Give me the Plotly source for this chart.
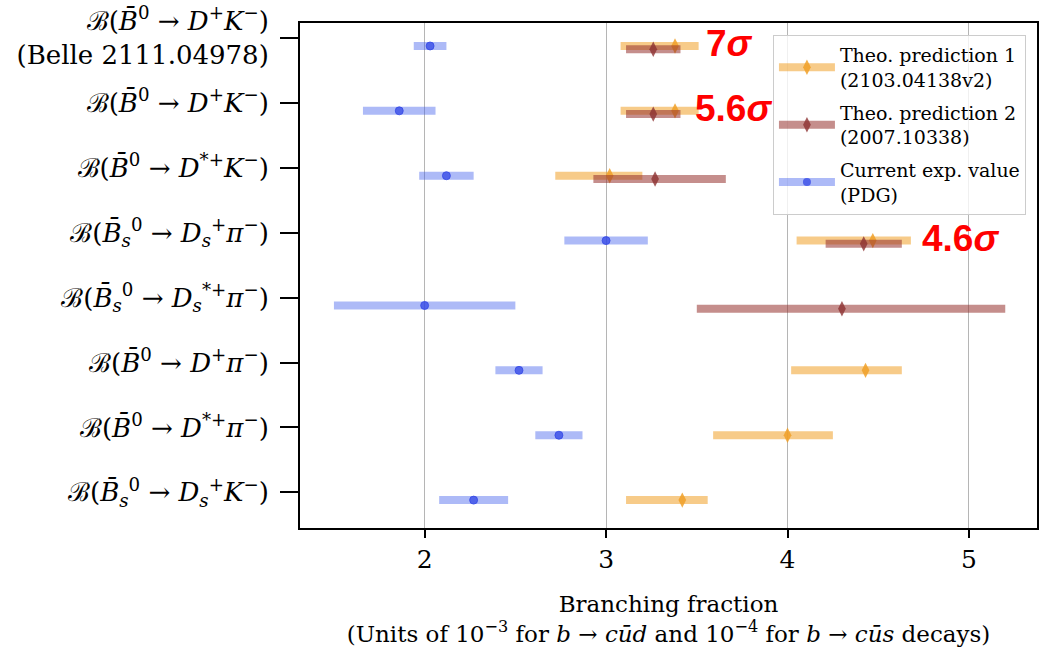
import plotly.graph_objects as go

# ---------------- data ----------------
row_labels = [
    "ℬ(<i>B̄</i><sup>0</sup> → <i>D</i><sup>+</sup><i>K</i><sup>−</sup>)<br>(Belle 2111.04978)",
    "ℬ(<i>B̄</i><sup>0</sup> → <i>D</i><sup>+</sup><i>K</i><sup>−</sup>)",
    "ℬ(<i>B̄</i><sup>0</sup> → <i>D</i><sup>*+</sup><i>K</i><sup>−</sup>)",
    "ℬ(<i>B̄</i><sub><i>s</i></sub><sup>0</sup> → <i>D</i><sub><i>s</i></sub><sup>+</sup><i>π</i><sup>−</sup>)",
    "ℬ(<i>B̄</i><sub><i>s</i></sub><sup>0</sup> → <i>D</i><sub><i>s</i></sub><sup>*+</sup><i>π</i><sup>−</sup>)",
    "ℬ(<i>B̄</i><sup>0</sup> → <i>D</i><sup>+</sup><i>π</i><sup>−</sup>)",
    "ℬ(<i>B̄</i><sup>0</sup> → <i>D</i><sup>*+</sup><i>π</i><sup>−</sup>)",
    "ℬ(<i>B̄</i><sub><i>s</i></sub><sup>0</sup> → <i>D</i><sub><i>s</i></sub><sup>+</sup><i>K</i><sup>−</sup>)",
]

pred1_val = [3.38, 3.38, 3.02, 4.47, None, 4.43, 4.00, 3.42]
pred1_up = [0.13, 0.13, 0.18, 0.21, None, 0.20, 0.25, 0.14]
pred1_dn = [0.30, 0.30, 0.30, 0.42, None, 0.41, 0.41, 0.31]

pred2_val = [3.26, 3.26, 3.27, 4.42, 4.30, None, None, None]
pred2_up = [0.15, 0.15, 0.39, 0.21, 0.90, None, None, None]
pred2_dn = [0.15, 0.15, 0.34, 0.21, 0.80, None, None, None]

exp_val = [2.03, 1.86, 2.12, 3.00, 2.00, 2.52, 2.74, 2.27]
exp_err = [0.09, 0.20, 0.15, 0.23, 0.50, 0.13, 0.13, 0.19]

series_names = [
    "Theo. prediction 1<br>(2103.04138v2)",
    "Theo. prediction 2<br>(2007.10338)",
    "Current exp. value<br>(PDG)",
]

x_ticks = [2, 3, 4, 5]

sigma_texts = ["7", "5.6", "4.6"]
sigma_rows = [0, 1, 3]

# ---------------- style ----------------
SERIF = "DejaVu Serif, Liberation Serif, serif"
row_offset = [0.12, 0.17, 0.12]   # vertical offset of each series from its tick
bar_cols = ["rgba(240,160,40,0.55)", "rgba(150,50,45,0.55)", "rgba(60,90,235,0.42)"]
mk_cols = ["rgba(240,160,40,0.85)", "rgba(140,50,50,0.8)", "rgba(50,70,230,0.75)"]
mk_symbols = ["diamond-tall", "diamond-tall", "circle"]
mk_sizes = [11, 11, 8]
BAR_W = 8

fig = go.Figure()

series = [
    (pred1_val, pred1_up, pred1_dn),
    (pred2_val, pred2_up, pred2_dn),
    (exp_val, exp_err, exp_err),
]

for k, (vals, ups, dns) in enumerate(series):
    idx = [i for i, v in enumerate(vals) if v is not None]
    fig.add_trace(go.Scatter(
        x=[vals[i] for i in idx],
        y=[i + row_offset[k] for i in idx],
        mode="markers",
        marker=dict(symbol=mk_symbols[k], size=mk_sizes[k], color=mk_cols[k],
                    line=dict(width=1 if k == 2 else 0, color=mk_cols[k])),
        error_x=dict(type="data", symmetric=False,
                     array=[ups[i] for i in idx],
                     arrayminus=[dns[i] for i in idx],
                     thickness=BAR_W, width=0, color=bar_cols[k]),
        showlegend=False,
        hoverinfo="skip",
    ))

for k in range(3):
    fig.add_trace(go.Scatter(
        x=[None], y=[None],
        mode="lines+markers",
        name=series_names[k],
        legendgroup="g%d" % k,
        line=dict(color=bar_cols[k], width=BAR_W),
        marker=dict(symbol=mk_symbols[k], size=mk_sizes[k], color=mk_cols[k]),
    ))

annotations = []
sigma_x = [3.54, 3.48, 4.73]
for t, r, xx in zip(sigma_texts, sigma_rows, sigma_x):
    annotations.append(dict(
        x=xx, y=r + 0.08, xref="x", yref="y",
        text="<b>" + t + "<i>σ</i></b>", showarrow=False,
        xanchor="left", yanchor="middle",
        font=dict(family="Liberation Sans, Arial, sans-serif", size=37, color="#ff0000"),
    ))

fig.update_layout(
    width=1041, height=653,
    margin=dict(l=300, r=2, t=22, b=125),
    paper_bgcolor="white", plot_bgcolor="white",
    font=dict(family=SERIF, color="black"),
    showlegend=True,
    legend=dict(
        x=0.985, y=0.976, xanchor="right", yanchor="top",
        bgcolor="rgba(255,255,255,0.8)", bordercolor="#cccccc", borderwidth=1,
        font=dict(family=SERIF, size=19, color="black"),
        itemwidth=56, traceorder="grouped", tracegroupgap=5,
    ),
    annotations=annotations,
)

fig.update_xaxes(
    range=[1.313, 5.375],
    tickvals=x_ticks, ticktext=[str(v) for v in x_ticks],
    showgrid=True, gridcolor="#b5b5b5", gridwidth=1,
    zeroline=False,
    showline=True, mirror=True, linecolor="black", linewidth=2,
    ticks="outside", ticklen=8, tickwidth=2, tickcolor="black",
    tickfont=dict(family=SERIF, size=25),
    title=dict(
        text="Branching fraction<br>(Units of 10<sup>−3</sup> for <i>b</i> → <i>cūd</i> and 10<sup>−4</sup> for <i>b</i> → <i>cūs</i> decays)",
        font=dict(family=SERIF, size=23), standoff=23,
    ),
)

fig.update_yaxes(
    range=[7.55, -0.234],
    tickvals=list(range(len(row_labels))), ticktext=row_labels,
    showgrid=False, zeroline=False,
    showline=True, mirror=True, linecolor="black", linewidth=2,
    ticks="outside", ticklen=18, tickwidth=2, tickcolor="black",
    tickfont=dict(family=SERIF, size=26),
    ticklabelstandoff=6,
)

fig.write_html("out.html")
